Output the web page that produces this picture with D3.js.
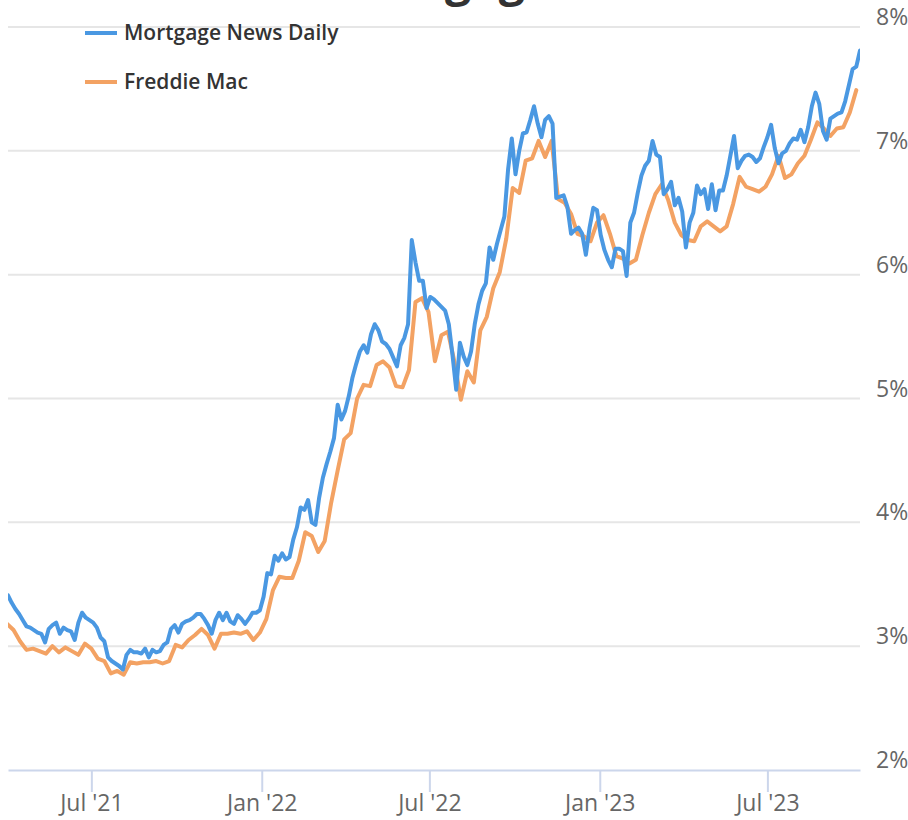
<!DOCTYPE html>
<html>
<head>
<meta charset="utf-8">
<script src="https://cdn.jsdelivr.net/npm/d3@7"></script>
<style>
    body { margin: 0; background: #fff; }
    svg text { font-family: "Open Sans", "Noto Sans", sans-serif; }
</style>
</head>
<body>
<div id="chart"></div>
<script>
// Chart title (only its descenders show at the top edge)
const chartTitle = 'Mortgage Rates';

// Series names and colours
const seriesNames = ['Mortgage News Daily', 'Freddie Mac'];
const seriesColors = ['#4a98e2', '#f3a263'];

// Mortgage News Daily, one reading every 4 days from 2021-04-02
const mndStart = '2021-04-02';
const mndStepDays = 4;
const mndRates = [
    3.41, 3.35, 3.30, 3.26, 3.21, 3.16, 3.15, 3.13, 3.11, 3.10,
    3.03, 3.14, 3.17, 3.19, 3.10, 3.15, 3.13, 3.12, 3.05, 3.19,
    3.27, 3.23, 3.21, 3.19, 3.15, 3.07, 3.04, 2.91, 2.88, 2.86,
    2.84, 2.81, 2.93, 2.97, 2.95, 2.95, 2.94, 2.98, 2.91, 2.97,
    2.95, 2.96, 3.01, 3.03, 3.14, 3.17, 3.11, 3.18, 3.20, 3.21,
    3.23, 3.26, 3.26, 3.22, 3.17, 3.10, 3.21, 3.27, 3.21, 3.27,
    3.20, 3.18, 3.25, 3.22, 3.18, 3.22, 3.27, 3.27, 3.29, 3.40,
    3.59, 3.58, 3.73, 3.69, 3.75, 3.70, 3.72, 3.86, 3.96, 4.12,
    4.10, 4.18, 4.00, 3.98, 4.20, 4.36, 4.47, 4.57, 4.68, 4.95,
    4.83, 4.90, 5.02, 5.17, 5.28, 5.38, 5.43, 5.37, 5.52, 5.60,
    5.55, 5.46, 5.44, 5.40, 5.33, 5.26, 5.43, 5.49, 5.60, 6.28,
    6.10, 5.95, 5.95, 5.73, 5.82, 5.80, 5.77, 5.74, 5.71, 5.60,
    5.35, 5.07, 5.45, 5.34, 5.27, 5.38, 5.60, 5.76, 5.87, 5.93,
    6.22, 6.12, 6.25, 6.36, 6.47, 6.85, 7.10, 6.81, 7.00, 7.14,
    7.15, 7.25, 7.36, 7.22, 7.11, 7.25, 7.28, 7.22, 6.62, 6.63,
    6.64, 6.55, 6.33, 6.36, 6.38, 6.33, 6.16, 6.38, 6.54, 6.52,
    6.32, 6.20, 6.12, 6.06, 6.21, 6.21, 6.19, 5.99, 6.42, 6.50,
    6.66, 6.80, 6.88, 6.92, 7.08, 6.97, 6.95, 6.65, 6.69, 6.75,
    6.56, 6.62, 6.51, 6.22, 6.42, 6.50, 6.72, 6.65, 6.69, 6.53,
    6.73, 6.52, 6.68, 6.68, 6.80, 6.96, 7.12, 6.86, 6.92, 6.96,
    6.97, 6.95, 6.91, 6.94, 7.03, 7.11, 7.21, 7.02, 6.90, 6.98,
    7.00, 7.06, 7.10, 7.09, 7.17, 7.07, 7.19, 7.36, 7.47, 7.38,
    7.16, 7.09, 7.26, 7.28, 7.30, 7.31, 7.40, 7.53, 7.66, 7.68,
    7.81
];

// Freddie Mac weekly survey, Thursdays from 2021-04-01
const freddieStart = '2021-04-01';
const freddieStepDays = 7;
const freddieRates = [
    3.18, 3.13, 3.04, 2.97, 2.98, 2.96, 2.94, 3.00, 2.95, 2.99,
    2.96, 2.93, 3.02, 2.98, 2.90, 2.88, 2.78, 2.80, 2.77, 2.87,
    2.86, 2.87, 2.87, 2.88, 2.86, 2.88, 3.01, 2.99, 3.05, 3.09,
    3.14, 3.09, 2.98, 3.10, 3.10, 3.11, 3.10, 3.12, 3.05, 3.11,
    3.22, 3.45, 3.56, 3.55, 3.55, 3.69, 3.92, 3.89, 3.76, 3.85,
    4.16, 4.42, 4.67, 4.72, 5.00, 5.11, 5.10, 5.27, 5.30, 5.25,
    5.10, 5.09, 5.23, 5.78, 5.81, 5.70, 5.30, 5.51, 5.54, 5.30,
    4.99, 5.22, 5.13, 5.55, 5.66, 5.89, 6.02, 6.29, 6.70, 6.66,
    6.92, 6.94, 7.08, 6.95, 7.08, 6.61, 6.58, 6.49, 6.33, 6.31,
    6.27, 6.42, 6.48, 6.33, 6.15, 6.13, 6.09, 6.12, 6.32, 6.50,
    6.65, 6.73, 6.60, 6.42, 6.32, 6.28, 6.27, 6.39, 6.43, 6.39,
    6.35, 6.39, 6.57, 6.79, 6.71, 6.69, 6.67, 6.71, 6.81, 6.96,
    6.78, 6.81, 6.90, 6.96, 7.09, 7.23, 7.18, 7.12, 7.18, 7.19,
    7.31, 7.49
];

// Axes
const xDomain = ['2021-04-02', '2023-10-09'];
const xTickDates = ['2021-07-01', '2022-01-01', '2022-07-01', '2023-01-01', '2023-07-01'];
const xTickLabels = ["Jul '21", "Jan '22", "Jul '22", "Jan '23", "Jul '23"];
const yTicks = [2, 3, 4, 5, 6, 7, 8];

const width = 908;
const height = 820;
const plot = {left: 8, right: 860, top: 27, bottom: 770};

const svg = d3.select('#chart').append('svg')
    .attr('width', width)
    .attr('height', height);

const x = d3.scaleUtc()
    .domain(xDomain.map(d => new Date(d)))
    .range([plot.left, plot.right]);

const y = d3.scaleLinear()
    .domain([2, 8])
    .range([plot.bottom, plot.top]);

// Turn a start date + step + values into points
const toPoints = (start, step, values) => values.map((v, i) => ({
    date: d3.utcDay.offset(new Date(start), i * step),
    value: v
}));

const mndData = toPoints(mndStart, mndStepDays, mndRates);
const freddieData = toPoints(freddieStart, freddieStepDays, freddieRates);

// Gridlines
svg.append('g')
    .selectAll('line')
    .data(yTicks.filter(t => t !== 2))
    .join('line')
    .attr('x1', plot.left)
    .attr('x2', plot.right)
    .attr('y1', d => y(d))
    .attr('y2', d => y(d))
    .attr('stroke', '#e6e6e6')
    .attr('stroke-width', 2);

// Y labels on the right, sitting just above each gridline
svg.append('g')
    .selectAll('text')
    .data(yTicks)
    .join('text')
    .attr('x', 876)
    .attr('y', d => y(d) - 2)
    .attr('fill', '#666')
    .attr('font-size', 23)
    .text(d => d + '%');

// X axis
const xAxis = svg.append('g')
    .attr('transform', `translate(0,${plot.bottom})`)
    .call(d3.axisBottom(x)
        .tickValues(xTickDates.map(d => new Date(d)))
        .tickFormat((d, i) => xTickLabels[i])
        .tickSize(22)
        .tickSizeOuter(0)
        .tickPadding(3));

xAxis.select('.domain')
    .attr('stroke', '#ccd6eb')
    .attr('stroke-width', 2);
xAxis.selectAll('.tick line')
    .attr('stroke', '#ccd6eb')
    .attr('stroke-width', 2);
xAxis.selectAll('.tick text')
    .attr('fill', '#666')
    .attr('font-size', 23)
    .attr('font-family', '"Open Sans", "Noto Sans", sans-serif');

// Clip the series to the plot area
svg.append('clipPath')
    .attr('id', 'plot-clip')
    .append('rect')
    .attr('x', plot.left)
    .attr('y', 0)
    .attr('width', plot.right - plot.left)
    .attr('height', plot.bottom);

const line = d3.line()
    .x(d => x(d.date))
    .y(d => y(d.value));

const series = [
    {name: seriesNames[1], color: seriesColors[1], data: freddieData},
    {name: seriesNames[0], color: seriesColors[0], data: mndData}
];

svg.append('g')
    .attr('clip-path', 'url(#plot-clip)')
    .selectAll('path')
    .data(series)
    .join('path')
    .attr('d', d => line(d.data))
    .attr('fill', 'none')
    .attr('stroke', d => d.color)
    .attr('stroke-width', 4)
    .attr('stroke-linejoin', 'round')
    .attr('stroke-linecap', 'round');

// Legend
const legend = svg.append('g')
    .selectAll('g')
    .data(seriesNames)
    .join('g')
    .attr('transform', (d, i) => `translate(85,${33 + i * 49})`);

legend.append('line')
    .attr('x1', 0)
    .attr('x2', 32)
    .attr('stroke', (d, i) => seriesColors[i])
    .attr('stroke-width', 4);

legend.append('text')
    .attr('x', 39)
    .attr('y', 7)
    .attr('fill', '#333')
    .attr('font-size', 21)
    .attr('font-weight', 600)
    .text(d => d);

// Title, pushed above the top edge so only the "g" tails show
const titleEl = svg.append('text')
    .attr('fill', '#333')
    .attr('font-size', 46)
    .attr('font-weight', 700)
    .text(chartTitle);
const beforeG = titleEl.node().getSubStringLength(0, 4);
titleEl.attr('x', 445 - beforeG).attr('y', -4);
</script>
</body>
</html>
